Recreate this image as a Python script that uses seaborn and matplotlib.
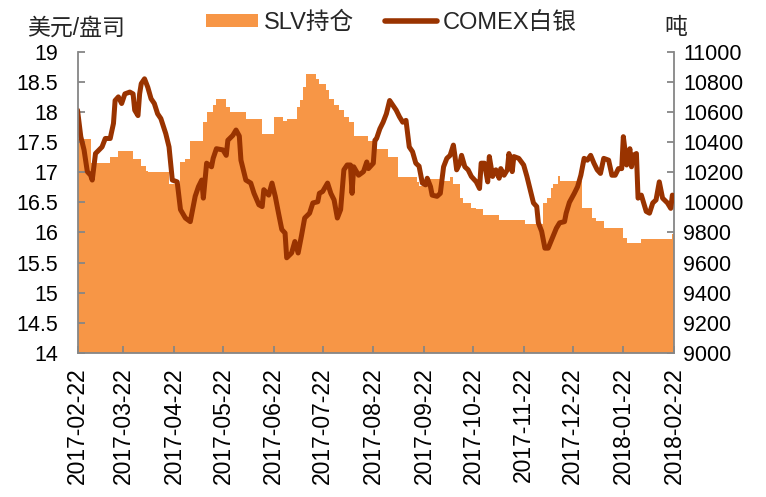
import pandas as pd
import seaborn as sns
import matplotlib.pyplot as plt
import matplotlib.dates as mdates
from matplotlib.patches import Patch
from matplotlib.lines import Line2D

# COMEX silver price, USD/oz
price_dates = [
    "2017-02-22", "2017-02-24", "2017-02-26", "2017-02-28", "2017-03-02", "2017-03-03",
    "2017-03-05", "2017-03-09", "2017-03-11", "2017-03-14", "2017-03-16", "2017-03-17",
    "2017-03-19", "2017-03-21", "2017-03-23", "2017-03-26", "2017-03-28", "2017-03-29",
    "2017-03-31", "2017-04-01", "2017-04-02", "2017-04-04", "2017-04-06", "2017-04-08",
    "2017-04-10", "2017-04-12", "2017-04-14", "2017-04-17", "2017-04-19", "2017-04-21",
    "2017-04-24", "2017-04-26", "2017-04-29", "2017-05-02", "2017-05-05", "2017-05-07",
    "2017-05-09", "2017-05-10", "2017-05-12", "2017-05-15", "2017-05-16", "2017-05-18",
    "2017-05-22", "2017-05-24", "2017-05-25", "2017-05-28", "2017-05-30", "2017-06-01",
    "2017-06-02", "2017-06-03", "2017-06-05", "2017-06-08", "2017-06-10", "2017-06-13",
    "2017-06-15", "2017-06-16", "2017-06-19", "2017-06-21", "2017-06-23", "2017-06-25",
    "2017-06-27", "2017-06-29", "2017-06-30", "2017-07-03", "2017-07-05", "2017-07-07",
    "2017-07-09", "2017-07-11", "2017-07-14", "2017-07-16", "2017-07-19", "2017-07-20",
    "2017-07-22", "2017-07-25", "2017-07-27", "2017-07-29", "2017-07-31", "2017-08-02",
    "2017-08-04", "2017-08-06", "2017-08-08", "2017-08-09", "2017-08-10", "2017-08-13",
    "2017-08-16", "2017-08-18", "2017-08-19", "2017-08-22", "2017-08-23", "2017-08-24",
    "2017-08-26", "2017-08-28", "2017-08-30", "2017-09-01", "2017-09-03", "2017-09-05",
    "2017-09-07", "2017-09-09", "2017-09-11", "2017-09-13", "2017-09-15", "2017-09-17",
    "2017-09-19", "2017-09-21", "2017-09-23", "2017-09-24", "2017-09-26", "2017-09-27",
    "2017-09-30", "2017-10-02", "2017-10-04", "2017-10-06", "2017-10-08", "2017-10-10",
    "2017-10-11", "2017-10-12", "2017-10-14", "2017-10-15", "2017-10-17", "2017-10-19",
    "2017-10-21", "2017-10-24", "2017-10-26", "2017-10-27", "2017-10-29", "2017-10-31",
    "2017-11-01", "2017-11-03", "2017-11-05", "2017-11-07", "2017-11-08", "2017-11-10",
    "2017-11-12", "2017-11-13", "2017-11-15", "2017-11-16", "2017-11-19", "2017-11-22",
    "2017-11-24", "2017-11-26", "2017-11-28", "2017-11-30", "2017-12-01", "2017-12-03",
    "2017-12-05", "2017-12-07", "2017-12-10", "2017-12-12", "2017-12-14", "2017-12-17",
    "2017-12-18", "2017-12-20", "2017-12-23", "2017-12-25", "2017-12-27", "2017-12-29",
    "2017-12-31", "2018-01-02", "2018-01-04", "2018-01-06", "2018-01-08", "2018-01-10",
    "2018-01-13", "2018-01-15", "2018-01-17", "2018-01-19", "2018-01-21", "2018-01-22",
    "2018-01-23", "2018-01-24", "2018-01-26", "2018-01-27", "2018-01-28", "2018-01-30",
    "2018-01-31", "2018-02-02", "2018-02-05", "2018-02-07", "2018-02-09", "2018-02-11",
    "2018-02-13", "2018-02-15", "2018-02-18", "2018-02-20", "2018-02-21", "2018-02-22",
]
price = [
    18.03, 17.59, 17.37, 17.01, 16.95, 16.87,
    17.31, 17.42, 17.56, 17.56, 17.81, 18.19,
    18.25, 18.14, 18.30, 18.33, 18.30, 18.03,
    17.94, 18.30, 18.47, 18.55, 18.41, 18.22,
    18.14, 17.97, 17.89, 17.64, 17.42, 16.87,
    16.84, 16.38, 16.24, 16.18, 16.60, 16.76,
    16.87, 16.57, 17.15, 17.09, 17.23, 17.39,
    17.37, 17.28, 17.53, 17.61, 17.70, 17.60,
    17.20, 17.09, 16.87, 16.82, 16.65, 16.46,
    16.43, 16.71, 16.62, 16.82, 16.60, 16.32,
    16.05, 15.99, 15.58, 15.66, 15.85, 15.66,
    15.94, 16.24, 16.32, 16.49, 16.51, 16.65,
    16.68, 16.82, 16.65, 16.54, 16.24, 16.38,
    17.04, 17.12, 17.12, 16.65, 17.09, 16.95,
    17.01, 17.17, 17.06, 17.15, 17.53, 17.56,
    17.72, 17.83, 17.97, 18.19, 18.11, 18.03,
    17.92, 17.83, 17.86, 17.42, 17.34, 17.15,
    17.10, 16.82, 16.79, 16.90, 16.76, 16.62,
    16.60, 16.65, 17.09, 17.23, 17.28, 17.45,
    17.26, 17.04, 17.15, 17.28, 17.09, 17.04,
    16.93, 16.84, 16.73, 17.15, 17.15, 16.84,
    17.26, 16.93, 17.04, 16.90, 17.06, 16.95,
    17.04, 17.31, 17.01, 17.26, 17.23, 17.12,
    16.93, 16.71, 16.49, 16.43, 16.16, 16.02,
    15.74, 15.74, 15.94, 16.07, 16.16, 16.18,
    16.32, 16.50, 16.65, 16.76, 16.95, 17.23,
    17.20, 17.28, 17.15, 17.04, 16.98, 17.23,
    17.20, 16.95, 16.95, 17.06, 17.06, 17.59,
    17.37, 17.12, 17.39, 17.09, 17.28, 17.31,
    16.57, 16.62, 16.35, 16.32, 16.49, 16.54,
    16.84, 16.57, 16.49, 16.40, 16.62, 16.57,
]

# SLV holdings, tonnes (step changes)
slv_dates = [
    "2017-02-22", "2017-03-02", "2017-03-14", "2017-03-19", "2017-03-28", "2017-04-02",
    "2017-04-05", "2017-04-06", "2017-04-19", "2017-04-26", "2017-04-29", "2017-05-02",
    "2017-05-10", "2017-05-12", "2017-05-16", "2017-05-18", "2017-05-24", "2017-05-26",
    "2017-06-05", "2017-06-15", "2017-06-22", "2017-06-28", "2017-06-30", "2017-07-06",
    "2017-07-08", "2017-07-10", "2017-07-12", "2017-07-18", "2017-07-20", "2017-07-24",
    "2017-07-26", "2017-07-29", "2017-08-01", "2017-08-04", "2017-08-07", "2017-08-10",
    "2017-08-19", "2017-08-22", "2017-08-24", "2017-08-31", "2017-09-06", "2017-09-18",
    "2017-09-19", "2017-09-23", "2017-10-03", "2017-10-08", "2017-10-10", "2017-10-14",
    "2017-10-16", "2017-10-21", "2017-10-24", "2017-10-28", "2017-11-07", "2017-11-23",
    "2017-12-04", "2017-12-06", "2017-12-09", "2017-12-10", "2017-12-13", "2017-12-14",
    "2017-12-28", "2018-01-03", "2018-01-05", "2018-01-10", "2018-01-22", "2018-01-24",
    "2018-02-02", "2018-02-21", "2018-02-22",
]
slv = [
    10421, 10258, 10298, 10343, 10288, 10243,
    10210, 10203, 10121, 10265, 10288, 10410,
    10532, 10599, 10643, 10688, 10632, 10599,
    10554, 10454, 10565, 10540, 10554, 10632,
    10677, 10766, 10855, 10821, 10788, 10743,
    10688, 10643, 10610, 10565, 10532, 10443,
    10410, 10390, 10354, 10298, 10165, 10132,
    10110, 10154, 10143, 10165, 10121, 10032,
    9998, 9965, 9954, 9916, 9881, 9854,
    9998, 10032, 10098, 10121, 10176, 10143,
    9965, 9898, 9876, 9832, 9765, 9732,
    9760, 9790, 9832,
]

price_df = pd.DataFrame({"date": pd.to_datetime(price_dates), "price": price})
slv_df = pd.DataFrame({"date": pd.to_datetime(slv_dates), "tons": slv})
tick_dates = pd.to_datetime([
    "2017-02-22", "2017-03-22", "2017-04-22", "2017-05-22", "2017-06-22", "2017-07-22",
    "2017-08-22", "2017-09-22", "2017-10-22", "2017-11-22", "2017-12-22", "2018-01-22",
    "2018-02-22",
])

sns.set_style("ticks")
plt.rcParams['font.family'] = ['Liberation Sans', 'Noto Sans CJK SC', 'DejaVu Sans']

area_color = "#F79646"
line_color = "#993300"
axis_gray = "#868686"

fig = plt.figure(figsize=(7.66, 4.97), dpi=100)
ax = fig.add_axes([0.1012, 0.2897, 0.7787, 0.6063])
ax2 = ax.twinx()

ax2.fill_between(slv_df["date"], slv_df["tons"], 9000, step="post",
                 color=area_color, linewidth=0)
sns.lineplot(data=price_df, x="date", y="price", ax=ax, color=line_color,
             linewidth=3.6, legend=False)

ax.set_zorder(ax2.get_zorder() + 1)
ax.patch.set_visible(False)

ax.set_xlim(tick_dates[0], tick_dates[-1])
ax.set_ylim(14, 19)
ax.set_yticks([14, 14.5, 15, 15.5, 16, 16.5, 17, 17.5, 18, 18.5, 19])
ax.set_yticklabels(["14", "14.5", "15", "15.5", "16", "16.5", "17", "17.5", "18", "18.5", "19"])
ax2.set_ylim(9000, 11000)
ax2.set_yticks(range(9000, 11001, 200))
ax.set_xticks(tick_dates)
ax.xaxis.set_major_formatter(mdates.DateFormatter("%Y-%m-%d"))
ax.set_xlabel("")
ax.set_ylabel("")

for a in (ax, ax2):
    for side in ("left", "right", "bottom", "top"):
        a.spines[side].set_color(axis_gray)
        a.spines[side].set_linewidth(1.3)
    a.spines["top"].set_visible(False)
    a.tick_params(direction="in", length=5, width=1.3, color=axis_gray,
                  labelsize=15.5, labelcolor="black")
ax.spines["right"].set_visible(False)
ax2.spines["left"].set_visible(False)
ax2.spines["bottom"].set_visible(False)
ax.tick_params(axis="y", pad=14)
ax2.tick_params(axis="y", pad=6.5)
ax.tick_params(axis="x", rotation=90, pad=10, labelsize=16.5)

fig.text(0.036, 0.944, "美元/盘司", fontsize=16.5, ha="left", va="center")
fig.text(0.867, 0.944, "吨", fontsize=16.5, ha="left", va="center")

handles = [Patch(facecolor=area_color, edgecolor="none"),
           Line2D([], [], color=line_color, linewidth=4, solid_capstyle="round")]
fig.legend(handles, ["SLV持仓", "COMEX白银"], loc="upper center",
           bbox_to_anchor=(0.511, 1.02), ncol=2, frameon=False, fontsize=17,
           handlelength=2.2, handleheight=0.47, columnspacing=1.3,
           handletextpad=0.25)

plt.savefig("out.png", dpi=100)
